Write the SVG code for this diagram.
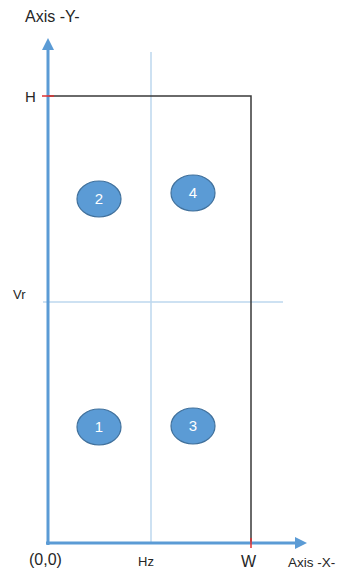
<svg xmlns="http://www.w3.org/2000/svg" width="341" height="571" viewBox="0 0 341 571">
<style>
.lbl{font-family:"Liberation Sans",Arial,sans-serif;fill:#262626}
.grid{stroke:#bdd7ee;stroke-width:1.5;fill:none}
.axis{stroke:#5b9bd5;stroke-width:3;fill:none}
.box{stroke:#3a3a3a;stroke-width:1.5;fill:none}
.tick{stroke:#e03030;stroke-width:1.5}
.node ellipse{fill:#5b9bd5;stroke:#41719c;stroke-width:1.2}
.node text{font-family:"Liberation Sans",Arial,sans-serif;font-size:15px;fill:#fff;text-anchor:middle}
</style>
<defs>
<marker id="ah" markerWidth="4" markerHeight="4" refX="2" refY="2" orient="auto" markerUnits="strokeWidth">
<path d="M0,0 L4,2 L0,4 Z" fill="#5b9bd5"/>
</marker>
</defs>
<g id="connectors">
<line class="grid" x1="151" y1="52" x2="151" y2="543"/>
<line class="grid" x1="43" y1="302" x2="283" y2="302"/>
<polyline class="box" points="48,96 251,96 251,543"/>
<line class="axis" x1="48" y1="545" x2="48" y2="44" marker-end="url(#ah)"/>
<line class="axis" x1="46" y1="543" x2="301" y2="543" marker-end="url(#ah)"/>
<line class="tick" x1="42" y1="96" x2="54" y2="96"/>
<line class="tick" x1="251" y1="538" x2="251" y2="548"/>
</g>
<text class="lbl" x="25" y="22" font-size="16">Axis -Y-</text>
<text class="lbl" x="25" y="102" font-size="15">H</text>
<text class="lbl" x="13" y="299" font-size="13" fill="#595959">Vr</text>
<text class="lbl" x="29" y="565" font-size="16">(0,0)</text>
<text class="lbl" x="138" y="566" font-size="13" fill="#595959">Hz</text>
<text class="lbl" x="241" y="567" font-size="16">W</text>
<text class="lbl" x="288" y="567" font-size="13.5">Axis -X-</text>
<g id="n1" class="node"><ellipse cx="99" cy="427" rx="22" ry="18"/><text x="99" y="432">1</text></g>
<g id="n2" class="node"><ellipse cx="99" cy="199" rx="22" ry="18"/><text x="99" y="204">2</text></g>
<g id="n3" class="node"><ellipse cx="193" cy="426" rx="22" ry="18"/><text x="193" y="431">3</text></g>
<g id="n4" class="node"><ellipse cx="193" cy="193" rx="22" ry="18"/><text x="193" y="198">4</text></g>
</svg>
